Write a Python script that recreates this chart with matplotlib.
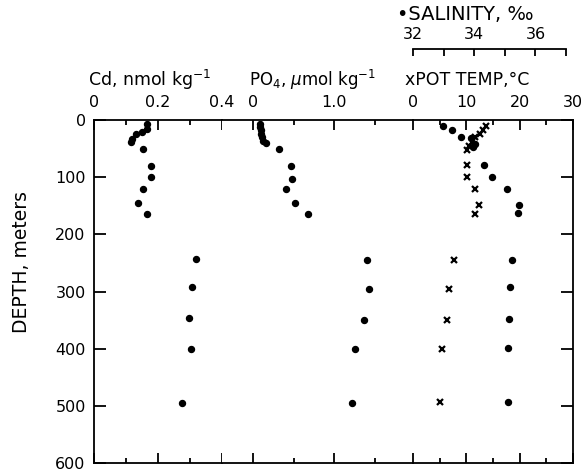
import numpy as np
import matplotlib
matplotlib.use("Agg")
import matplotlib.pyplot as plt

# depth profiles
cd_depth = [7, 16, 21, 25, 33, 39, 50, 80, 100, 120, 146, 164, 244, 293, 347, 400, 495]
cd_val = [0.165, 0.165, 0.150, 0.130, 0.120, 0.115, 0.154, 0.178, 0.178, 0.154, 0.139, 0.167,
          0.318, 0.305, 0.298, 0.302, 0.276]

po4_depth = [7, 12, 18, 24, 30, 36, 40, 50, 81, 103, 120, 146, 164, 245, 295, 350, 401, 495]
po4_val = [0.086, 0.086, 0.094, 0.094, 0.106, 0.126, 0.16, 0.315, 0.466, 0.482, 0.40, 0.515, 0.679,
           1.403, 1.423, 1.362, 1.248, 1.215]

temp_depth = [11, 18, 24, 30, 38, 45, 52, 79, 99, 120, 148, 164, 245, 295, 349, 401, 494]
temp_val = [13.7, 13.1, 12.5, 11.6, 11.0, 10.5, 10.1, 10.1, 10.2, 11.6, 12.4, 11.6,
            7.6, 6.8, 6.3, 5.4, 5.1]

sal_depth = [11, 18, 29, 32, 42, 47, 79, 100, 120, 148, 163, 245, 293, 348, 399, 493]
sal_val = [32.99, 33.26, 33.56, 33.88, 34.02, 33.95, 34.32, 34.57, 35.06, 35.47, 35.42,
           35.25, 35.17, 35.14, 35.11, 35.11]

depth_ticks = [0, 100, 200, 300, 400, 500, 600]

W, H = 583, 475
fig = plt.figure(figsize=(W / 100, H / 100), dpi=100)

bot = 12 / H
hgt = 343 / H
ax_cd = fig.add_axes([94 / W, bot, 128 / W, hgt])
ax_po = fig.add_axes([222 / W, bot, 191 / W, hgt], sharey=ax_cd)
ax_t = fig.add_axes([413 / W, bot, 160 / W, hgt], sharey=ax_cd)

# salinity gets its own scale above the temperature panel
ax_s = ax_t.twiny()

lw = 1.3
fs = 11.5
for ax in (ax_cd, ax_po, ax_t):
    for s in ax.spines.values():
        s.set_linewidth(lw)
    ax.tick_params(axis='x', which='both', direction='in', top=True, bottom=True,
                   labeltop=True, labelbottom=False, width=lw, labelsize=fs, pad=7)
    ax.tick_params(axis='x', which='major', length=7.5)
    ax.tick_params(axis='x', which='minor', length=3.8)

ax_cd.spines['right'].set_visible(False)
ax_po.spines['left'].set_visible(False)
ax_po.spines['right'].set_visible(False)
ax_t.spines['left'].set_visible(False)

ax_cd.set_ylim(600, 0)
ax_cd.set_yticks(depth_ticks)
ax_cd.tick_params(axis='y', direction='in', length=8.5, width=lw, labelsize=fs, pad=6)
ax_po.tick_params(axis='y', left=False, labelleft=False)
ax_t.tick_params(axis='y', left=False, labelleft=False, right=True, direction='in',
                 length=9, width=lw)

dot = dict(ls='none', marker='o', ms=4.3, color='black', mec='black')
cross = dict(ls='none', marker='x', ms=5, mew=1.6, color='black')

# Cd
ax_cd.plot(cd_val, cd_depth, **dot)
ax_cd.set_xlim(0, 0.4)
ax_cd.set_xticks([0, 0.2, 0.4], labels=['0', '0.2', '0.4'])
ax_cd.set_xticks([0.1, 0.3], minor=True)

# PO4
ax_po.plot(po4_val, po4_depth, **dot)
ax_po.set_xlim(-0.380, 1.963)
ax_po.set_xticks([0, 1.0], labels=['0', '1.0'])
ax_po.set_xticks([0.5, 1.5], minor=True)

# temperature
ax_t.plot(temp_val, temp_depth, **cross)
ax_t.set_xlim(0, 30)
ax_t.set_xticks([0, 10, 20, 30], labels=['0', '10', '20', '30'])
ax_t.set_xticks([5, 15, 25], minor=True)

# salinity
ax_s.plot(sal_val, sal_depth, **dot)
ax_s.set_xlim(32, 32 + 160 / 30.6)
for k in ('left', 'right', 'bottom'):
    ax_s.spines[k].set_visible(False)
ax_s.spines['top'].set_position(('outward', 51))
ax_s.spines['top'].set_bounds(32, 37)
ax_s.spines['top'].set_linewidth(lw)
ax_s.set_xticks([32, 33, 34, 35, 36, 37], labels=['32', '', '34', '', '36', ''])
ax_s.tick_params(axis='x', direction='in', bottom=False, labelbottom=False,
                 length=5, width=lw, labelsize=fs, pad=5)
ax_s.tick_params(axis='y', left=False, right=False, labelleft=False, labelright=False)

tfs = 12.5
fig.text(88 / W, 1 - 80 / H, r'Cd, nmol kg$^{-1}$', fontsize=tfs, ha='left', va='center')
fig.text(249 / W, 1 - 80 / H, r'PO$_4$, $\mu$mol kg$^{-1}$', fontsize=12, ha='left', va='center')
fig.text(405 / W, 1 - 80 / H, 'xPOT TEMP,°C', fontsize=tfs, ha='left', va='center')
fig.text(397 / W, 1 - 15 / H, '•SALINITY, ‰', fontsize=14, ha='left', va='center')
fig.text(22 / W, 1 - 262 / H, 'DEPTH, meters', fontsize=13.5, rotation=90,
         ha='center', va='center')

fig.savefig('out.png', dpi=100)
